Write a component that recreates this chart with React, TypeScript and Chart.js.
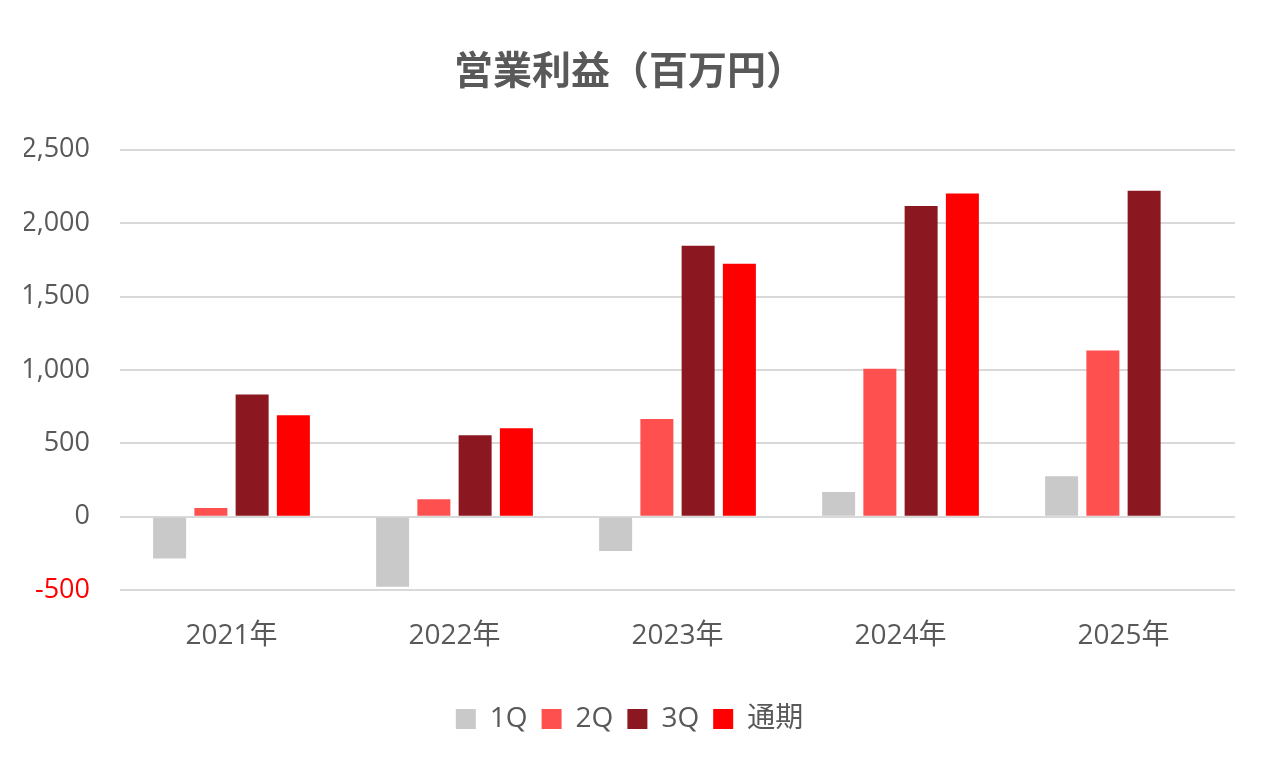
import React, { useEffect, useRef } from "react";
import { Chart, registerables } from "chart.js";

Chart.register(...registerables);

const categories = ["2021年", "2022年", "2023年", "2024年", "2025年"];
const seriesNames = ["1Q", "2Q", "3Q", "通期"];
const q1 = [-285, -477, -235, 168, 275];
const q2 = [59, 119, 666, 1007, 1132];
const q3 = [832, 555, 1846, 2117, 2221];
const fullYear: (number | null)[] = [691, 603, 1723, 2203, null];
const seriesColors = ["#c9c9c9", "#ff5050", "#8b1820", "#ff0000"];
const titleText = "営業利益（百万円）";

const FONT = '"Open Sans", "Noto Sans CJK JP", sans-serif';
const TEXT = "#595959";

export default function App() {
  const ref = useRef<HTMLCanvasElement | null>(null);

  useEffect(() => {
    if (!ref.current) return;
    const values = [q1, q2, q3, fullYear];
    const chart = new Chart(ref.current, {
      type: "bar",
      data: {
        labels: categories,
        datasets: seriesNames.map((name, i) => ({
          label: name,
          data: values[i],
          backgroundColor: seriesColors[i],
          borderWidth: 0,
          categoryPercentage: 0.74,
          barPercentage: 0.8,
        })),
      },
      options: {
        animation: false,
        responsive: false,
        maintainAspectRatio: false,
        layout: { padding: { left: 24, right: 31, top: 0, bottom: 33 } },
        plugins: {
          title: {
            display: true,
            text: titleText,
            color: TEXT,
            font: { family: FONT, size: 39, weight: "bold" },
            padding: { top: 49, bottom: 54 },
          },
          legend: {
            display: true,
            position: "bottom",
            labels: {
              color: TEXT,
              font: { family: FONT, size: 28 },
              boxWidth: 20,
              boxHeight: 20,
              padding: 14,
            },
          },
          tooltip: { enabled: false },
        },
        scales: {
          x: {
            grid: { display: false, drawTicks: false },
            border: { display: false },
            ticks: {
              color: TEXT,
              font: { family: FONT, size: 28 },
              padding: 29,
            },
            afterFit: (scale: any) => {
              scale.height = 101;
            },
          },
          y: {
            min: -500,
            max: 2500,
            grid: { color: "#d9d9d9", lineWidth: 2, drawTicks: false },
            border: { display: false },
            ticks: {
              stepSize: 500,
              padding: 30,
              font: { family: FONT, size: 27 },
              color: (ctx: any) => (ctx.tick && ctx.tick.value < 0 ? "#ff0000" : TEXT),
              callback: (v: any) => Number(v).toLocaleString("en-US"),
            },
            afterFit: (scale: any) => {
              scale.width = 96;
            },
          },
        },
      },
    });
    return () => chart.destroy();
  }, []);

  return (
    <div style={{ position: "absolute", left: 0, top: 0, width: 1266, height: 776, background: "#fff" }}>
      <canvas ref={ref} width={1266} height={776} style={{ width: 1266, height: 776 }} />
    </div>
  );
}
